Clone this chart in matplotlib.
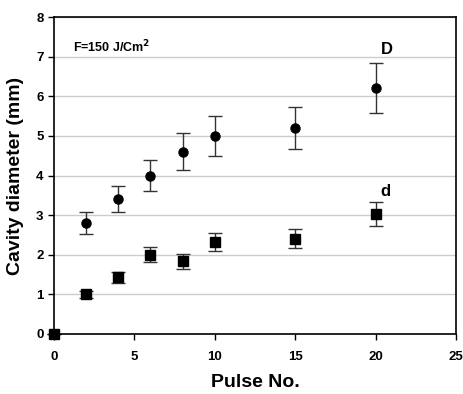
import numpy as np
import matplotlib
matplotlib.use('Agg')
import matplotlib.pyplot as plt

plt.rcParams['font.family'] = 'Liberation Sans'
plt.rcParams['font.weight'] = 'bold'

# big cavity diameter D
pulses_D = [2, 4, 6, 8, 10, 15, 20]
D_mean = [2.8, 3.4, 4.0, 4.6, 5.0, 5.2, 6.2]
D_err = [0.28, 0.33, 0.4, 0.47, 0.5, 0.52, 0.63]

# small cavity diameter d
pulses_d = [0, 2, 4, 6, 8, 10, 15, 20]
d_mean = [0.0, 1.0, 1.43, 2.0, 1.83, 2.32, 2.4, 3.02]
d_err = [0.0, 0.08, 0.14, 0.19, 0.19, 0.23, 0.24, 0.3]

fig = plt.figure(figsize=(4.64, 3.94), dpi=100)
ax = fig.add_axes([54/464, 1-334/394, (456-54)/464, (334-17)/394])

ax.grid(axis='y', color='#cccccc', linewidth=1)
ax.set_axisbelow(True)

ax.errorbar(pulses_D, D_mean, yerr=D_err, fmt='o', color='black', ms=6.5,
            ecolor='#333333', elinewidth=1, capsize=5, capthick=1, clip_on=False)
ax.errorbar(pulses_d, d_mean, yerr=d_err, fmt='s', color='black', ms=6.5,
            ecolor='#333333', elinewidth=1, capsize=5, capthick=1, clip_on=False)

ax.text(20.3, 7.0, 'D', fontsize=12, fontweight='bold', va='bottom')
ax.text(20.3, 3.4, 'd', fontsize=12, fontweight='bold', va='bottom')
ax.text(1.2, 7.12, 'F=150 J/Cm$^\\mathbf{2}$', fontsize=9, fontweight='bold')

ax.set_xlim(0, 25)
ax.set_ylim(0, 8)
ax.set_xticks([0, 5, 10, 15, 20, 25])
ax.set_yticks(range(0, 9))
ax.tick_params(axis='both', labelsize=9.5, direction='out', length=4, width=1)
ax.tick_params(axis='x', pad=8)
for lab in ax.get_xticklabels() + ax.get_yticklabels():
    lab.set_fontweight('bold')

ax.set_xlabel('Pulse No.', fontsize=14, fontweight='bold', labelpad=8)
ax.set_ylabel('Cavity diameter (mm)', fontsize=14, fontweight='bold', labelpad=9)

for s in ax.spines.values():
    s.set_linewidth(1.2)

fig.savefig('out.png', dpi=100)
